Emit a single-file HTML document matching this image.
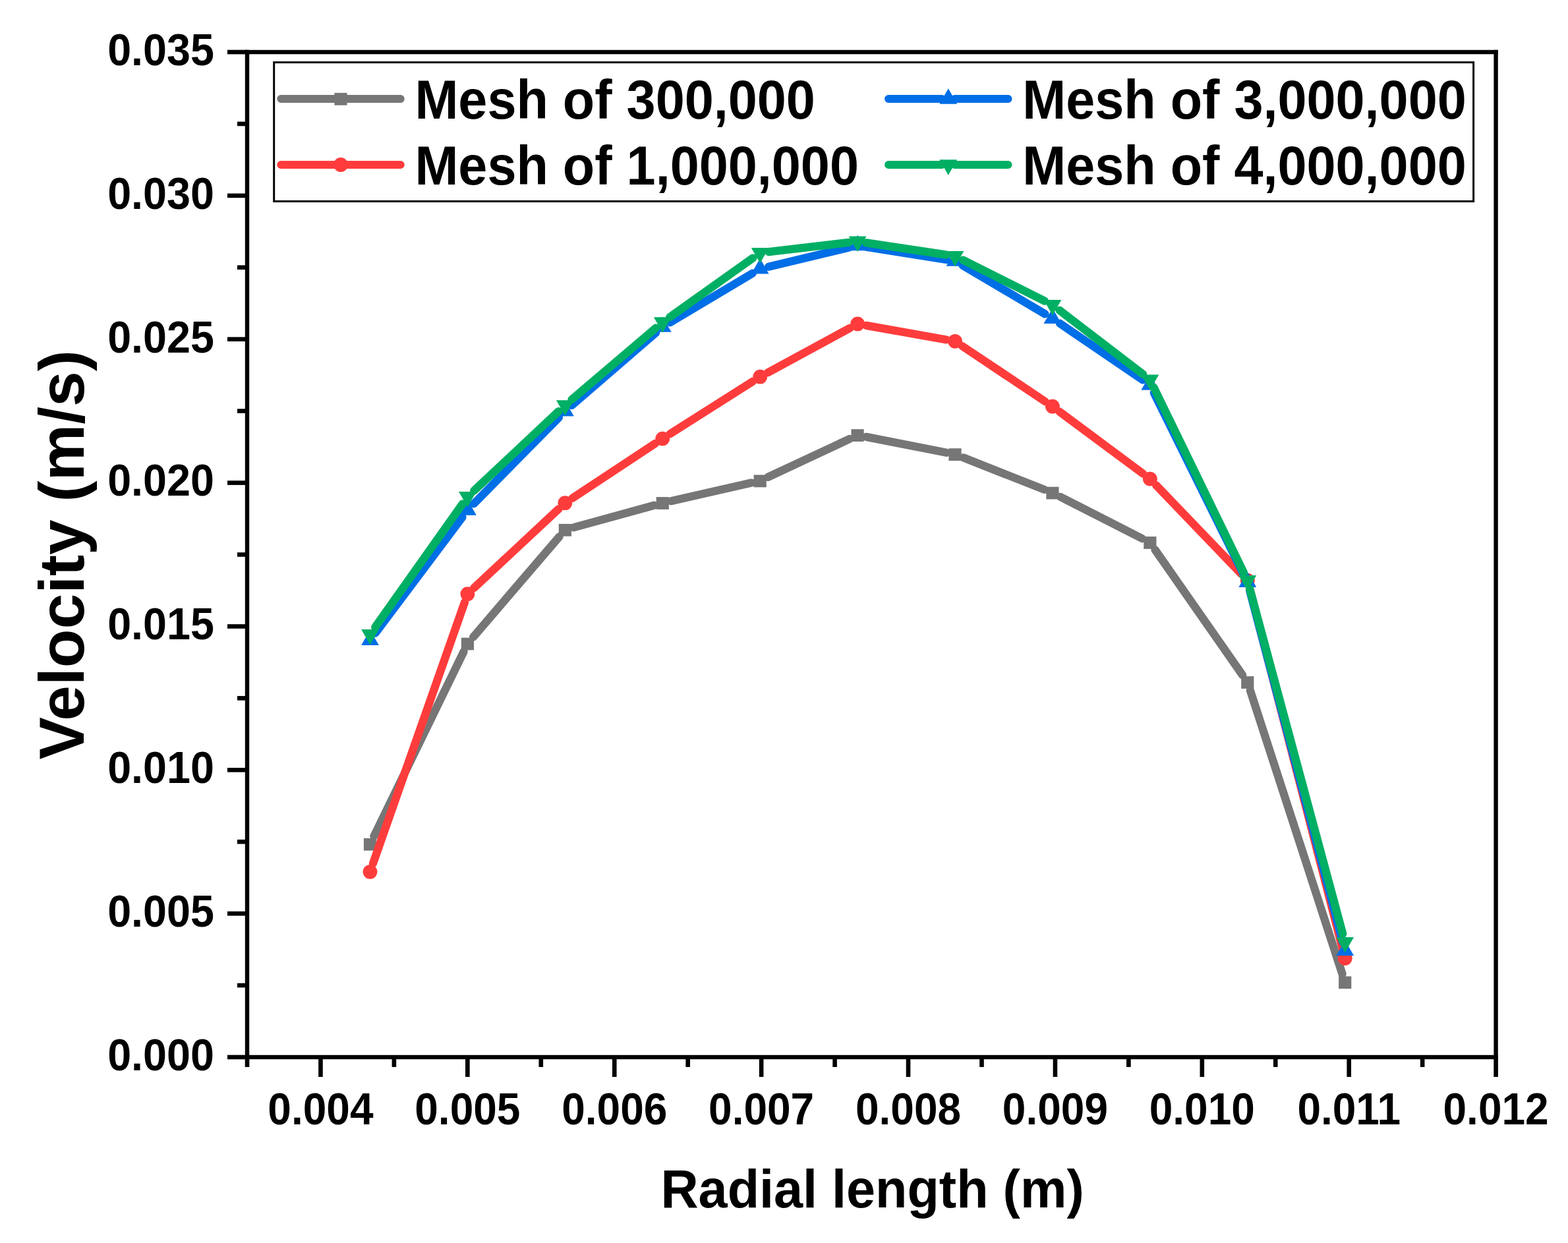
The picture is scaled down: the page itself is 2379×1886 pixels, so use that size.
<!DOCTYPE html>
<html lang="en"><head><meta charset="utf-8"><title>Velocity vs radial length for different mesh sizes</title>
<style>html,body{margin:0;padding:0;background:#fff}body{width:2379px;height:1886px}svg{display:block}text{font-family:"Liberation Sans",sans-serif;font-weight:bold;fill:#000}</style>
</head><body>
<svg width="2379" height="1886" viewBox="0 0 2379 1886" role="img" aria-label="Velocity versus radial length for four mesh sizes">
<rect x="0" y="0" width="2379" height="1886" fill="#fff"/>
<g id="series">
<g class="s-gray">
<path d="M567.36 1268.85L703.56 988.75M718.14 966.52L848.62 814.18M870.26 800.44L992.34 766.76M1018.33 760.23L1140.11 732.57M1165.31 723.92L1288.97 665.98M1314.25 662.89L1435.87 686.81M1461.48 694.32L1584.48 742.88M1608.88 753.89L1732.92 817.11M1752.53 834.19L1885.11 1024.21M1896.92 1047.94L2036.56 1477.76" fill="none" stroke="#767676" stroke-width="12.3" stroke-linecap="round"/>
<rect x="551.9" y="1271.8" width="19.2" height="18.8" fill="#767676"/>
<rect x="699.82" y="967.6" width="19.2" height="18.8" fill="#767676"/>
<rect x="847.74" y="794.9" width="19.2" height="18.8" fill="#767676"/>
<rect x="995.66" y="754.1" width="19.2" height="18.8" fill="#767676"/>
<rect x="1143.58" y="720.5" width="19.2" height="18.8" fill="#767676"/>
<rect x="1291.5" y="651.2" width="19.2" height="18.8" fill="#767676"/>
<rect x="1439.42" y="680.3" width="19.2" height="18.8" fill="#767676"/>
<rect x="1587.34" y="738.7" width="19.2" height="18.8" fill="#767676"/>
<rect x="1735.26" y="814.1" width="19.2" height="18.8" fill="#767676"/>
<rect x="1883.18" y="1026.1" width="19.2" height="18.8" fill="#767676"/>
<rect x="2031.1" y="1481.4" width="19.2" height="18.8" fill="#767676"/>
</g>
<g class="s-red">
<path d="M565.94 1310.16L704.98 913.84M719.22 892.06L847.54 772.34M868.52 755.82L994.08 672.98M1016.57 658.42L1141.87 578.88M1164.96 565.31L1289.32 497.89M1314.29 493.85L1435.83 515.45M1460.16 525.25L1585.8 609.25M1607.7 624.69L1734.1 718.61M1754.14 736.27L1883.5 871.03M1896.13 893.68L2037.35 1441.02" fill="none" stroke="#FF3C3C" stroke-width="12.3" stroke-linecap="round"/>
<circle cx="561.5" cy="1322.8" r="10.9" fill="#FF3C3C"/>
<circle cx="709.42" cy="901.2" r="10.9" fill="#FF3C3C"/>
<circle cx="857.34" cy="763.2" r="10.9" fill="#FF3C3C"/>
<circle cx="1005.26" cy="665.6" r="10.9" fill="#FF3C3C"/>
<circle cx="1153.18" cy="571.7" r="10.9" fill="#FF3C3C"/>
<circle cx="1301.1" cy="491.5" r="10.9" fill="#FF3C3C"/>
<circle cx="1449.02" cy="517.8" r="10.9" fill="#FF3C3C"/>
<circle cx="1596.94" cy="616.7" r="10.9" fill="#FF3C3C"/>
<circle cx="1744.86" cy="726.6" r="10.9" fill="#FF3C3C"/>
<circle cx="1892.78" cy="880.7" r="10.9" fill="#FF3C3C"/>
<circle cx="2040.7" cy="1454" r="10.9" fill="#FF3C3C"/>
</g>
<g class="s-blue">
<path d="M569.54 960.68L701.38 784.72M718.82 764.45L847.94 633.35M867.48 615.04L995.12 504.86M1016.77 489.23L1141.67 414.67M1166.21 404.69L1288.07 375.61M1314.33 374.6L1435.79 393.9M1460.56 402.8L1585.4 476.4M1608.01 490.75L1733.79 576.45M1750.8 596.01L1886.84 871.39M1896.21 896.35L2037.27 1429.45" fill="none" stroke="#006EE6" stroke-width="12.3" stroke-linecap="round"/>
<polygon points="548.1,979.1 574.9,979.1 561.5,955.7" fill="#006EE6"/>
<polygon points="696.02,781.7 722.82,781.7 709.42,758.3" fill="#006EE6"/>
<polygon points="843.94,631.5 870.74,631.5 857.34,608.1" fill="#006EE6"/>
<polygon points="991.86,503.8 1018.66,503.8 1005.26,480.4" fill="#006EE6"/>
<polygon points="1139.78,415.5 1166.58,415.5 1153.18,392.1" fill="#006EE6"/>
<polygon points="1287.7,380.2 1314.5,380.2 1301.1,356.8" fill="#006EE6"/>
<polygon points="1435.62,403.7 1462.42,403.7 1449.02,380.3" fill="#006EE6"/>
<polygon points="1583.54,490.9 1610.34,490.9 1596.94,467.5" fill="#006EE6"/>
<polygon points="1731.46,591.7 1758.26,591.7 1744.86,568.3" fill="#006EE6"/>
<polygon points="1879.38,891.1 1906.18,891.1 1892.78,867.7" fill="#006EE6"/>
<polygon points="2027.3,1450.1 2054.1,1450.1 2040.7,1426.7" fill="#006EE6"/>
</g>
<g class="s-green">
<path d="M569.24 951.66L701.68 764.64M719.19 744.53L847.57 624.07M867.54 606.21L995.06 497.69M1016.18 481.23L1142.26 391.57M1166.49 382.23L1287.79 367.87M1314.35 368.3L1435.77 386.6M1461 394.6L1584.96 456.7M1607.57 470.85L1734.23 567.95M1750.71 588.15L1886.93 868.65M1896.27 893.64L2037.21 1416.66" fill="none" stroke="#00AF64" stroke-width="12.3" stroke-linecap="round"/>
<polygon points="548.1,954.9 574.9,954.9 561.5,978.3" fill="#00AF64"/>
<polygon points="696.02,746 722.82,746 709.42,769.4" fill="#00AF64"/>
<polygon points="843.94,607.2 870.74,607.2 857.34,630.6" fill="#00AF64"/>
<polygon points="991.86,481.3 1018.66,481.3 1005.26,504.7" fill="#00AF64"/>
<polygon points="1139.78,376.1 1166.58,376.1 1153.18,399.5" fill="#00AF64"/>
<polygon points="1287.7,358.6 1314.5,358.6 1301.1,382" fill="#00AF64"/>
<polygon points="1435.62,380.9 1462.42,380.9 1449.02,404.3" fill="#00AF64"/>
<polygon points="1583.54,455 1610.34,455 1596.94,478.4" fill="#00AF64"/>
<polygon points="1731.46,568.4 1758.26,568.4 1744.86,591.8" fill="#00AF64"/>
<polygon points="1879.38,873 1906.18,873 1892.78,896.4" fill="#00AF64"/>
<polygon points="2027.3,1421.9 2054.1,1421.9 2040.7,1445.3" fill="#00AF64"/>
</g>
</g>
<g id="axes" fill="#000">
<rect x="371.8" y="75.8" width="1901" height="6.4"/>
<rect x="371.8" y="1600.8" width="1901" height="6.4"/>
<rect x="371.8" y="75.8" width="6.4" height="1531.4"/>
<rect x="2266.4" y="75.8" width="6.4" height="1531.4"/>
<rect x="345" y="1600.7" width="30" height="6.6"/>
<rect x="360" y="1491.77" width="15" height="6.6"/>
<rect x="345" y="1382.84" width="30" height="6.6"/>
<rect x="360" y="1273.91" width="15" height="6.6"/>
<rect x="345" y="1164.99" width="30" height="6.6"/>
<rect x="360" y="1056.06" width="15" height="6.6"/>
<rect x="345" y="947.13" width="30" height="6.6"/>
<rect x="360" y="838.2" width="15" height="6.6"/>
<rect x="345" y="729.27" width="30" height="6.6"/>
<rect x="360" y="620.34" width="15" height="6.6"/>
<rect x="345" y="511.41" width="30" height="6.6"/>
<rect x="360" y="402.49" width="15" height="6.6"/>
<rect x="345" y="293.56" width="30" height="6.6"/>
<rect x="360" y="184.63" width="15" height="6.6"/>
<rect x="345" y="75.7" width="30" height="6.6"/>
<rect x="371.7" y="1604" width="6.6" height="15"/>
<rect x="483.15" y="1604" width="6.6" height="30"/>
<rect x="594.59" y="1604" width="6.6" height="15"/>
<rect x="706.04" y="1604" width="6.6" height="30"/>
<rect x="817.49" y="1604" width="6.6" height="15"/>
<rect x="928.94" y="1604" width="6.6" height="30"/>
<rect x="1040.38" y="1604" width="6.6" height="15"/>
<rect x="1151.83" y="1604" width="6.6" height="30"/>
<rect x="1263.28" y="1604" width="6.6" height="15"/>
<rect x="1374.72" y="1604" width="6.6" height="30"/>
<rect x="1486.17" y="1604" width="6.6" height="15"/>
<rect x="1597.62" y="1604" width="6.6" height="30"/>
<rect x="1709.06" y="1604" width="6.6" height="15"/>
<rect x="1820.51" y="1604" width="6.6" height="30"/>
<rect x="1931.96" y="1604" width="6.6" height="15"/>
<rect x="2043.41" y="1604" width="6.6" height="30"/>
<rect x="2154.85" y="1604" width="6.6" height="15"/>
<rect x="2266.3" y="1604" width="6.6" height="30"/>
</g>
<g id="ticklabels" font-size="64">
<text transform="translate(324.9 1623.85) scale(1.01 1.065)" text-anchor="end">0.000</text>
<text transform="translate(324.9 1405.99) scale(1.01 1.065)" text-anchor="end">0.005</text>
<text transform="translate(324.9 1188.14) scale(1.01 1.065)" text-anchor="end">0.010</text>
<text transform="translate(324.9 970.28) scale(1.01 1.065)" text-anchor="end">0.015</text>
<text transform="translate(324.9 752.42) scale(1.01 1.065)" text-anchor="end">0.020</text>
<text transform="translate(324.9 534.56) scale(1.01 1.065)" text-anchor="end">0.025</text>
<text transform="translate(324.9 316.71) scale(1.01 1.065)" text-anchor="end">0.030</text>
<text transform="translate(324.9 98.85) scale(1.01 1.065)" text-anchor="end">0.035</text>
<text transform="translate(486.45 1705.6) scale(1 1.065)" text-anchor="middle">0.004</text>
<text transform="translate(709.34 1705.6) scale(1 1.065)" text-anchor="middle">0.005</text>
<text transform="translate(932.24 1705.6) scale(1 1.065)" text-anchor="middle">0.006</text>
<text transform="translate(1155.13 1705.6) scale(1 1.065)" text-anchor="middle">0.007</text>
<text transform="translate(1378.02 1705.6) scale(1 1.065)" text-anchor="middle">0.008</text>
<text transform="translate(1600.92 1705.6) scale(1 1.065)" text-anchor="middle">0.009</text>
<text transform="translate(1823.81 1705.6) scale(1 1.065)" text-anchor="middle">0.010</text>
<text transform="translate(2046.71 1705.6) scale(1 1.065)" text-anchor="middle">0.011</text>
<text transform="translate(2269.6 1705.6) scale(1 1.065)" text-anchor="middle">0.012</text>
</g>
<text id="xtitle" transform="translate(1323.6 1832.3) scale(1 1.02)" font-size="79.2" text-anchor="middle">Radial length (m)</text>
<text id="ytitle" transform="translate(127.1 841.9) rotate(-90) scale(1 1.0)" font-size="96.4" text-anchor="middle">Velocity (m/s)</text>
<g id="legend">
<rect x="415.7" y="94.6" width="1819.9" height="210.9" fill="#fff" stroke="#000" stroke-width="3"/>
<path d="M426.2 150L507.4 150M526.6 150L607.8 150" fill="none" stroke="#767676" stroke-width="11.9" stroke-linecap="round"/>
<rect x="507.4" y="140.9" width="19.2" height="18.8" fill="#767676"/>
<text transform="translate(629.4 179.5) scale(1 1.045)" font-size="79.2">Mesh of 300,000</text>
<path d="M426.2 250L507.4 250M526.6 250L607.8 250" fill="none" stroke="#FF3C3C" stroke-width="11.9" stroke-linecap="round"/>
<circle cx="517" cy="250" r="10.9" fill="#FF3C3C"/>
<text transform="translate(629.4 279.5) scale(1 1.045)" font-size="79.2">Mesh of 1,000,000</text>
<path d="M1348 150L1429.2 150M1448.4 150L1529.6 150" fill="none" stroke="#006EE6" stroke-width="11.9" stroke-linecap="round"/>
<polygon points="1425.4,157.7 1452.2,157.7 1438.8,134.3" fill="#006EE6"/>
<text transform="translate(1551.2 179.5) scale(1 1.045)" font-size="79.2">Mesh of 3,000,000</text>
<path d="M1348 250L1429.2 250M1448.4 250L1529.6 250" fill="none" stroke="#00AF64" stroke-width="11.9" stroke-linecap="round"/>
<polygon points="1425.4,242.3 1452.2,242.3 1438.8,265.7" fill="#00AF64"/>
<text transform="translate(1551.2 279.5) scale(1 1.045)" font-size="79.2">Mesh of 4,000,000</text>
</g>
</svg>
</body></html>
